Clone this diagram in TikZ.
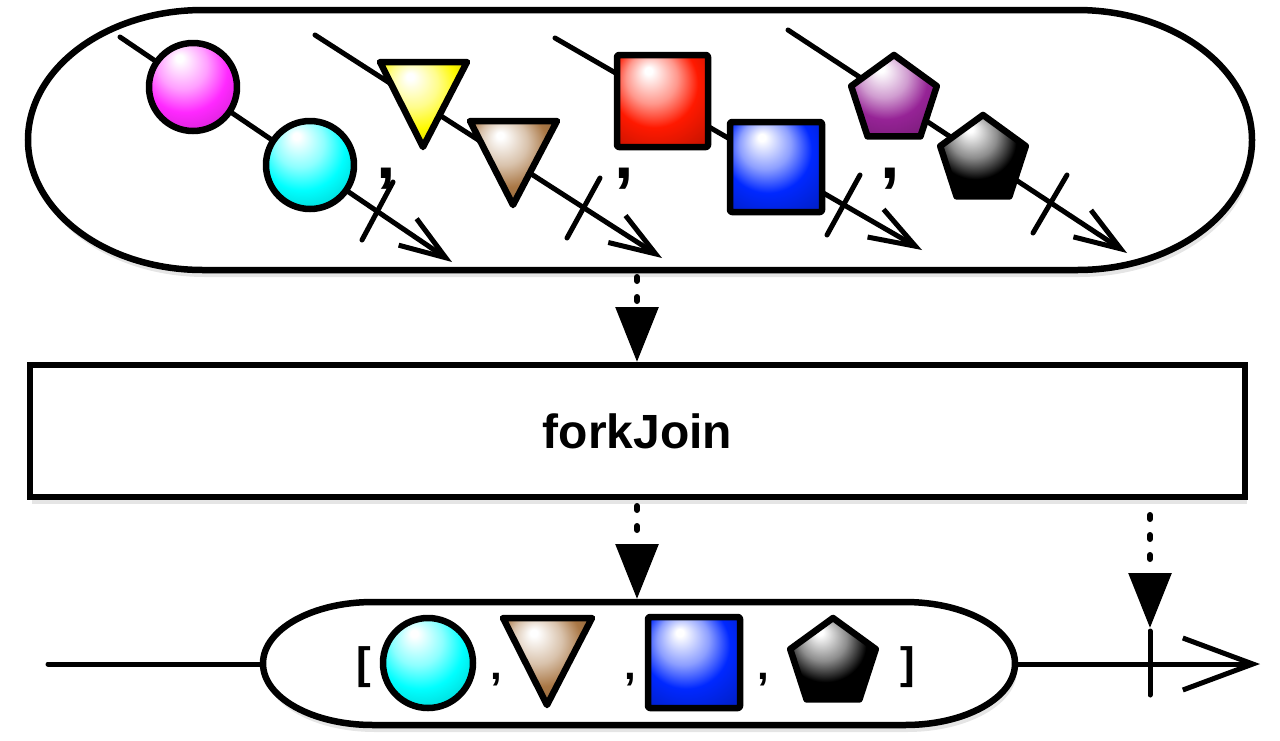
\documentclass[tikz,border=0pt]{standalone}
\usepackage{fontspec}
\setmainfont{Liberation Sans}
\usetikzlibrary{arrows.meta,shadows}
\colorlet{shcol}{red}
\pgfdeclareradialshading[shcol]{glossy}{\pgfpoint{-8bp}{17bp}}{%
  color(0bp)=(white); color(2bp)=(white); color(14bp)=(shcol!45!white);
  color(24bp)=(shcol); color(38bp)=(shcol!78!black); color(55bp)=(shcol!35!black)}
\definecolor{cMag}{RGB}{255,40,255}
\definecolor{cCyan}{RGB}{0,255,255}
\definecolor{cYel}{RGB}{255,250,0}
\definecolor{cBrown}{RGB}{170,120,70}
\definecolor{cRed}{RGB}{255,25,0}
\definecolor{cBlue}{RGB}{0,40,255}
\definecolor{cPurp}{RGB}{150,35,150}
\definecolor{cBlk}{RGB}{0,0,0}
\tikzset{
  glyph/.style={draw=black, line width=6.5pt, line join=round, shading=glossy,
    /utils/exec={\colorlet{shcol}{#1}}},
  bigshape/.style={draw=black, line width=6.5pt, fill=white,
    drop shadow={opacity=0.22, shadow xshift=1pt, shadow yshift=-3pt, fill=black},
    drop shadow={opacity=0.10, shadow xshift=2pt, shadow yshift=-7pt, fill=black}},
  tline/.style={line width=5pt, line cap=round,
    -{Straight Barb[length=46pt,width=32pt]}},
  plainline/.style={line width=5pt, line cap=round},
  tickmark/.style={line width=5pt, line cap=round},
  flow/.style={line width=6pt, line cap=round, dash pattern=on 4pt off 16pt,
    -{Triangle[length=55pt,width=42pt]}},
  bigcomma/.style={font=\fontsize{70}{70}\selectfont\bfseries, inner sep=0pt},
  smallcomma/.style={font=\fontsize{42}{42}\selectfont\bfseries, inner sep=0pt},
  bracket/.style={font=\fontsize{44}{44}\selectfont\bfseries, inner sep=0pt},
}
\begin{document}
\begin{tikzpicture}[x=1pt,y=-1pt]
\useasboundingbox (0,0) rectangle (1280,740);
% top stadium
\draw[bigshape] (203,10) -- (1077,10)
  arc[start angle=-90,end angle=90,x radius=175,y radius=130] -- (203,270)
  arc[start angle=90,end angle=270,x radius=175,y radius=130] -- cycle;
% timelines
\coordinate (l1s) at (120,37);  \coordinate (l1e) at (452,262);
\coordinate (l2s) at (315,35);  \coordinate (l2e) at (662,258);
\coordinate (l3s) at (555,38);  \coordinate (l3e) at (922,250);
\coordinate (l4s) at (788,30);  \coordinate (l4e) at (1127,253);
\draw[tline] (l1s) -- (l1e);
\draw[tline] (l2s) -- (l2e);
\draw[tline] (l3s) -- (l3e);
\draw[tline] (l4s) -- (l4e);
% completion ticks
\coordinate (t1a) at (393,182); \coordinate (t1b) at (362,240);
\coordinate (t2a) at (600,178); \coordinate (t2b) at (567,238);
\coordinate (t3a) at (860,175); \coordinate (t3b) at (827,235);
\coordinate (t4a) at (1067,175); \coordinate (t4b) at (1033,233);
\draw[tickmark] (t1a) -- (t1b);
\draw[tickmark] (t2a) -- (t2b);
\draw[tickmark] (t3a) -- (t3b);
\draw[tickmark] (t4a) -- (t4b);
% items
\draw[glyph=cMag] (193,87) circle[radius=44];
\draw[glyph=cCyan] (310,165) circle[radius=44];
\draw[glyph=cYel] (380,62) -- (467,62) -- (423,147) -- cycle;
\draw[glyph=cBrown] (470,121) -- (557,121) -- (513,205) -- cycle;
\draw[glyph=cRed, rounded corners=2pt] (617,55) rectangle (708,147);
\draw[glyph=cBlue, rounded corners=2pt] (730,122) rectangle (822,212);
\draw[glyph=cPurp, shift={(894,100)}] (-90:45) -- (-18:45) -- (54:45) -- (126:45) -- (198:45) -- cycle;
\draw[glyph=cBlk, shift={(983,160)}] (-90:45) -- (-18:45) -- (54:45) -- (126:45) -- (198:45) -- cycle;
\node[bigcomma] (c1) at (386,179) {,};
\node[bigcomma] (c2) at (624,179) {,};
\node[bigcomma] (c3) at (890,179) {,};
% operator box
\node[draw=black, line width=6.5pt, fill=white, minimum width=1215pt, minimum height=132pt,
  inner sep=0pt, font=\fontsize{48}{56}\selectfont\bfseries,
  drop shadow={opacity=0.22, shadow xshift=1pt, shadow yshift=-3pt, fill=black},
  drop shadow={opacity=0.10, shadow xshift=2pt, shadow yshift=-7pt, fill=black}]
  (fj) at (637.5,431) {forkJoin};
% bottom stadium
\draw[bigshape] (373,602) -- (905,602)
  arc[start angle=-90,end angle=90,x radius=110,y radius=61.5] -- (373,725)
  arc[start angle=90,end angle=270,x radius=110,y radius=61.5] -- cycle;
\coordinate (o0) at (48,664);
\coordinate (oL) at (263,664);
\coordinate (oR) at (1015,664);
\coordinate (oE) at (1260,664);
\draw[plainline] (o0) -- (oL);
\draw[line width=5pt, line cap=round, -{Straight Barb[length=70pt,width=52pt]}] (oR) -- (oE);
\coordinate (ta) at (1150,631); \coordinate (tb) at (1150,695);
\draw[tickmark] (ta) -- (tb);
% result items
\node[bracket] (lb) at (364,667) {[};
\draw[glyph=cCyan] (428,663) circle[radius=45];
\node[smallcomma] (bc1) at (496,680) {,};
\draw[glyph=cBrown] (503,618) -- (592,618) -- (547,705) -- cycle;
\node[smallcomma] (bc2) at (630,680) {,};
\draw[glyph=cBlue, rounded corners=2pt] (648,617) rectangle (740,708);
\node[smallcomma] (bc3) at (763,680) {,};
\draw[glyph=cBlk, shift={(833,663)}] (-90:45) -- (-18:45) -- (54:45) -- (126:45) -- (198:45) -- cycle;
\node[bracket] (rb) at (908,667) {]};
% flow arrows
\coordinate (a1s) at (637,277);
\coordinate (a1e) at (637,362);
\coordinate (a2s) at (637,506);
\coordinate (a2e) at (637,599);
\coordinate (a3s) at (1150,515);
\coordinate (a3e) at (1150,628);
\draw[flow] (a1s) -- (a1e);
\draw[flow] (a2s) -- (a2e);
\draw[flow] (a3s) -- (a3e);
\end{tikzpicture}
\end{document}
